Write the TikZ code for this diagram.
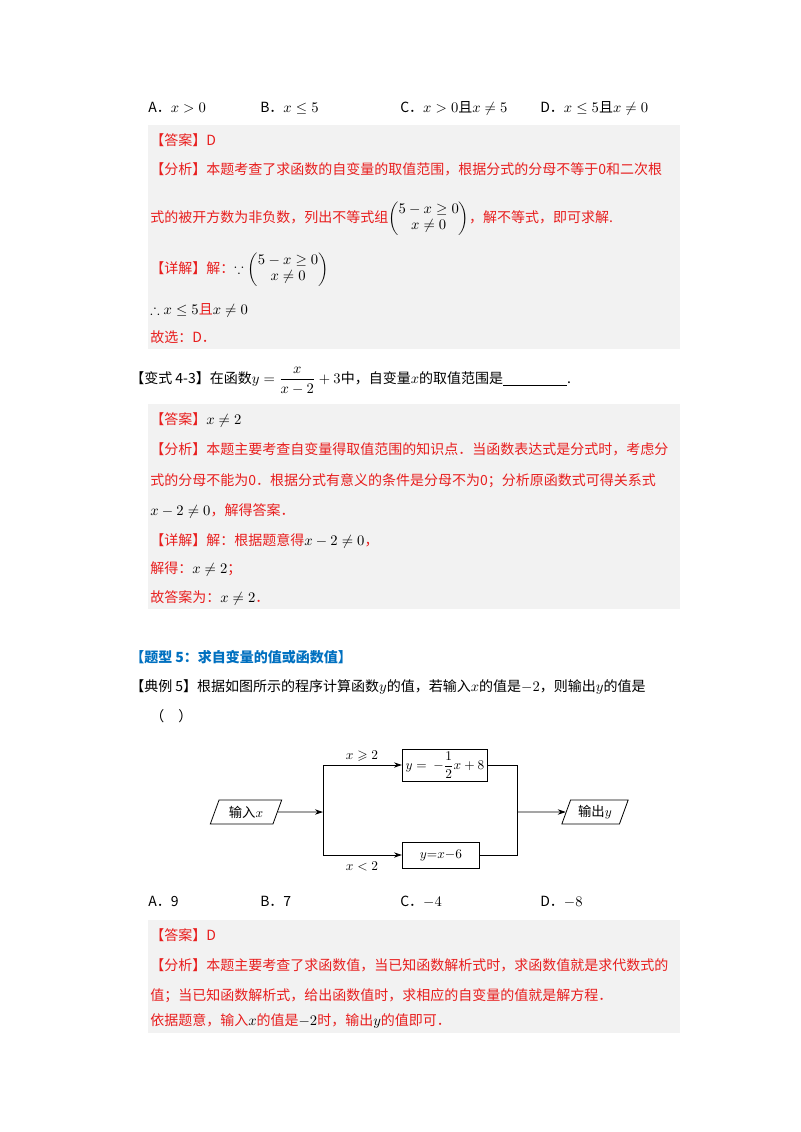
\documentclass[tikz,border=0pt]{standalone}
\usepackage{amsmath,amssymb}
\usepackage{fontspec}
\setmainfont{Noto Sans CJK SC}
\newfontfamily\lmr{Latin Modern Roman}
\usetikzlibrary{arrows.meta,shapes.geometric}
\definecolor{ansred}{RGB}{232,30,30}
\definecolor{boxgray}{RGB}{242,242,242}
\definecolor{tblue}{RGB}{0,112,192}
\begin{document}
\begin{tikzpicture}[x=0.75pt,y=-0.75pt,
  txt/.style={anchor=base west,inner sep=0pt,font=\fontsize{10.5pt}{12pt}\selectfont},
  red/.style={txt,text=ansred},
  gbox/.style={fill=boxgray,draw=none},
  fbox/.style={draw,line width=0.6pt,minimum height=19.5pt,inner sep=2pt,font=\fontsize{10pt}{12pt}\selectfont},
  para/.style={draw,line width=0.6pt,trapezium,trapezium left angle=70,trapezium right angle=110,minimum height=18pt,inner sep=2pt,font=\fontsize{10pt}{12pt}\selectfont},
  arr/.style={line width=0.6pt,-{Stealth[length=6pt,width=4pt]}},
  ln/.style={line width=0.6pt}]
\useasboundingbox (0,0) rectangle (800,1132);
\fill[white] (0,0) rectangle (800,1132);
\fill[boxgray] (148,125) rectangle (680,349);
\fill[boxgray] (148,404) rectangle (680,609);
\fill[boxgray] (148,920) rectangle (680,1033);

\node[txt] (oa) at (148,112) {A．$x>0$};
\node[txt] (ob) at (260,112) {B．$x\le 5$};
\node[txt] (oc) at (400,112) {C．$x>0$且$x\ne 5$};
\node[txt] (od) at (540,112) {D．$x\le 5$且$x\ne 0$};

\node[red] (a1) at (150,145) {【答案】D};
\node[red] (a2) at (150,174) {【分析】本题考查了求函数的自变量的取值范围，根据分式的分母不等于0和二次根};
\node[red] (a3) at (150,222) {式的被开方数为非负数，列出不等式组{\color{black}$\begin{pmatrix}5-x\ge0\\ x\ne0\end{pmatrix}$}，解不等式，即可求解.};
\node[red] (a4) at (150,273) {【详解】解：{\color{black}$\because\begin{pmatrix}5-x\ge0\\ x\ne0\end{pmatrix}$}};
\node[red] (a5) at (150,314) {{\color{black}$\therefore x\le5$}且{\color{black}$x\ne0$}};
\node[red] (a6) at (150,342) {故选：D．};

\node[txt] (q2) at (130,383) {【变式 4-3】在函数$y=\dfrac{x}{x-2}+3$中，自变量$x$的取值范围是\underline{\hspace{48pt}}.};

\node[red] (b1) at (150,424) {【答案】{\color{black}$x\ne2$}};
\node[red] (b2) at (150,454) {【分析】本题主要考查自变量得取值范围的知识点．当函数表达式是分式时，考虑分};
\node[red] (b3) at (150,485) {式的分母不能为0．根据分式有意义的条件是分母不为0；分析原函数式可得关系式};
\node[red] (b4) at (150,515) {{\color{black}$x-2\ne0$}，解得答案．};
\node[red] (b5) at (150,545) {【详解】解：根据题意得{\color{black}$x-2\ne0$}，};
\node[red] (b6) at (150,573) {解得：{\color{black}$x\ne2$}；};
\node[red] (b7) at (150,602) {故答案为：{\color{black}$x\ne2$}．};

\node[txt,text=tblue,font=\fontsize{10.5pt}{12pt}\selectfont\bfseries] (t5) at (130,662) {【题型 5：求自变量的值或函数值】};
\node[txt] (e5) at (130,691) {【典例 5】根据如图所示的程序计算函数$y$的值，若输入$x$的值是$-2$，则输出$y$的值是};
\node[txt] (pp) at (150,721) {（　）};

\node[para,minimum width=52pt] (in) at (246,812) {输入$x$};
\node[fbox,minimum width=64pt] (top) at (445,765) {$y=\ -\dfrac12x+8$};
\node[fbox,minimum width=58pt] (bot) at (441,855) {$y{=}x{-}6$};
\node[para,minimum width=36pt] (out) at (595,812) {输出$y$};
\coordinate (j1) at (323,812);
\coordinate (j1t) at (323,765);
\coordinate (j1b) at (323,855);
\coordinate (j2t) at (517,765);
\coordinate (j2b) at (517,855);
\coordinate (j2) at (517,812);
\draw[arr] (in) -- (j1);
\draw[ln] (j1t) -- (j1b);
\draw[arr] (j1t) -- (top);
\draw[arr] (j1b) -- (bot);
\draw[ln] (top.east) -- (j2t) -- (j2b) -- (bot.east);
\draw[arr] (j2) -- (out);
\node[font=\fontsize{10pt}{12pt}\selectfont] (l1) at (362,756) {$x\geqslant2$};
\node[font=\fontsize{10pt}{12pt}\selectfont] (l2) at (362,866) {$x<2$};

\node[txt] (c1) at (148,906) {A．9};
\node[txt] (c2) at (260,906) {B．7};
\node[txt] (c3) at (400,906) {C．$-4$};
\node[txt] (c4) at (540,906) {D．$-8$};

\node[red] (d1) at (150,940) {【答案】D};
\node[red] (d2) at (150,970) {【分析】本题主要考查了求函数值，当已知函数解析式时，求函数值就是求代数式的};
\node[red] (d3) at (150,1000) {值；当已知函数解析式，给出函数值时，求相应的自变量的值就是解方程．};
\node[red] (d4) at (150,1025) {依据题意，输入{\color{black}$x$}的值是{\color{black}$-2$}时，输出{\color{black}$y$}的值即可．};
\end{tikzpicture}
\end{document}
